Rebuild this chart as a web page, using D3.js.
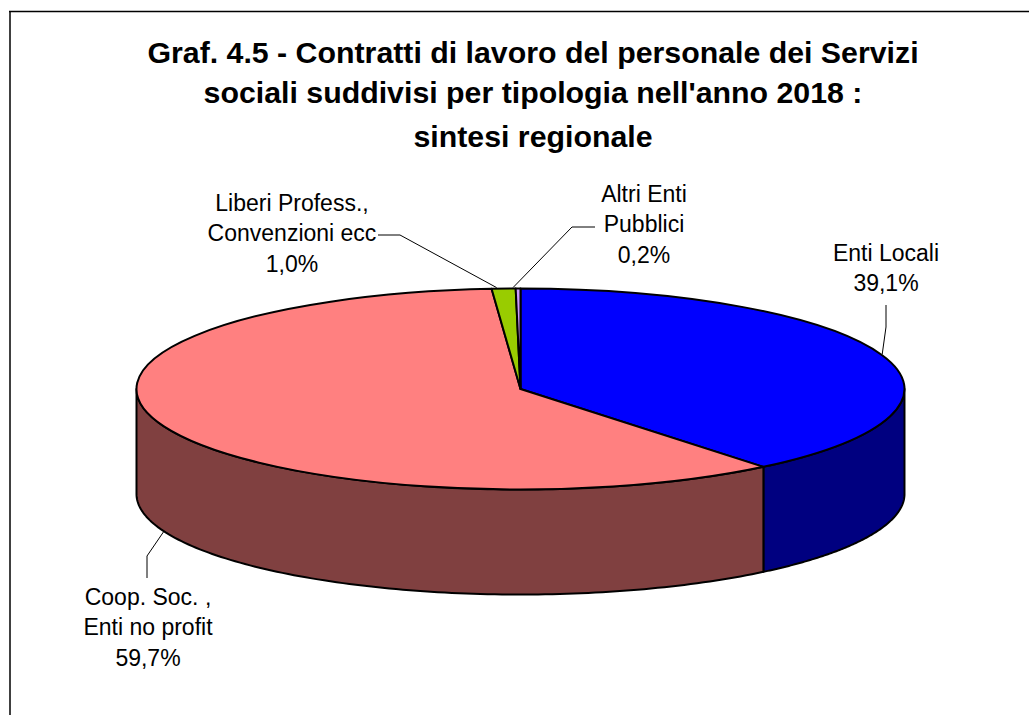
<!DOCTYPE html>
<html>
<head>
<meta charset="utf-8">
<script src="https://cdn.jsdelivr.net/npm/d3@7"></script>
<style>
  html, body { margin: 0; padding: 0; background: #fff; overflow: hidden; }
  text { font-family: "Liberation Sans", Arial, sans-serif; fill: #000; }
</style>
</head>
<body>
<svg id="chart" width="1029" height="715"></svg>
<script>
var titleLines = ['Graf. 4.5 - Contratti di lavoro del personale dei Servizi',
                  "sociali suddivisi per tipologia nell'anno 2018 :",
                  'sintesi regionale'];
var categories = ['Enti Locali', 'Coop. Soc. , Enti no profit', 'Liberi Profess., Convenzioni ecc', 'Altri Enti Pubblici'];
var values = [39.1, 59.7, 1.0, 0.2];
var valueLabels = ['39,1%', '59,7%', '1,0%', '0,2%'];
var labelLines = [['Enti Locali'], ['Coop. Soc. ,', 'Enti no profit'], ['Liberi Profess.,', 'Convenzioni ecc'], ['Altri Enti', 'Pubblici']];
var topColors = ['#0000ff', '#ff8080', '#99cc00', '#cc99ff'];
var sideColors = ['#000080', '#804040', '#4d6600', '#664d80'];

// pie geometry
var cx = 520.5, cy = 389, rx = 384, ry = 100.5, depth = 105;

// label layout: text centre, first baseline, leader path
var labelPos = [
  { x: 886, y: 261, onWall: false, anchorDx: 0, elbows: [[886, 327], [886, 305]] },
  { x: 148, y: 605, onWall: true,  anchorDx: 0, elbows: [[147, 556], [147, 578]] },
  { x: 292, y: 211, onWall: false, anchorDx: -7, elbows: [[400, 235], [378, 235]] },
  { x: 644, y: 202, onWall: false, anchorDx: -5, elbows: [[572, 227], [595, 227]] }
];

var svg = d3.select('#chart');

// frame: only the left and top sides show
svg.append('line')
  .attr('x1', 10).attr('y1', 11).attr('x2', 10).attr('y2', 715)
  .attr('stroke', '#404040')
  .attr('stroke-width', 2);
svg.append('line')
  .attr('x1', 9).attr('y1', 11.5).attr('x2', 1029).attr('y2', 11.5)
  .attr('stroke', '#000')
  .attr('stroke-width', 1.5);

svg.append('g').selectAll('text')
  .data(titleLines)
  .enter().append('text')
  .attr('x', 533)
  .attr('y', function(d, i) { return [63, 103, 147][i]; })
  .attr('text-anchor', 'middle')
  .style('font-size', '30.3px')
  .style('font-weight', 'bold')
  .text(function(d) { return d; });

var pie = d3.pie().sort(null).startAngle(0).endAngle(2 * Math.PI);
var slices = pie(values);

function px(a) { return cx + rx * Math.sin(a); }
function py(a) { return cy - ry * Math.cos(a); }

// side wall of a slice, only the part that faces the viewer (90 to 270 degrees)
function wallPath(s) {
  var a0 = Math.max(s.startAngle, Math.PI / 2);
  var a1 = Math.min(s.endAngle, 3 * Math.PI / 2);
  if (a1 <= a0) return null;
  var angles = d3.range(0, 121).map(function(i) { return a0 + (a1 - a0) * i / 120; });
  var upper = angles.map(function(a) { return [px(a), py(a)]; });
  var lower = angles.slice().reverse().map(function(a) { return [px(a), py(a) + depth]; });
  return d3.line()(upper.concat(lower)) + 'Z';
}

svg.append('g').selectAll('path')
  .data(slices.filter(function(s) { return wallPath(s); }))
  .enter().append('path')
  .attr('d', wallPath)
  .attr('fill', function(d) { return sideColors[d.index]; })
  .attr('stroke', '#000')
  .attr('stroke-width', 2)
  .attr('stroke-linejoin', 'round');

var arc = d3.arc().innerRadius(0).outerRadius(rx);

svg.append('g')
  .attr('transform', 'translate(' + cx + ',' + cy + ') scale(1,' + (ry / rx) + ')')
  .selectAll('path')
  .data(slices)
  .enter().append('path')
  .attr('d', arc)
  .attr('fill', function(d) { return topColors[d.index]; })
  .attr('stroke', '#000')
  .attr('stroke-width', 2)
  .attr('stroke-linejoin', 'round')
  .attr('vector-effect', 'non-scaling-stroke');

// leader lines start at the middle of each slice's rim
svg.append('g').selectAll('path')
  .data(slices)
  .enter().append('path')
  .attr('d', function(d) {
    var p = labelPos[d.index];
    var a = (d.startAngle + d.endAngle) / 2;
    var start = [px(a) + p.anchorDx, py(a) + (p.onWall ? depth : 0) - (p.onWall ? 0 : 1)];
    return d3.line()([start].concat(p.elbows));
  })
  .attr('fill', 'none')
  .attr('stroke', '#000')
  .attr('stroke-width', 1);

var labels = svg.append('g').selectAll('text')
  .data(categories)
  .enter().append('text')
  .attr('text-anchor', 'middle')
  .style('font-size', '23px');

labels.each(function(d, i) {
  var lines = labelLines[i].concat(valueLabels[i]);
  d3.select(this).selectAll('tspan')
    .data(lines)
    .enter().append('tspan')
    .attr('x', labelPos[i].x)
    .attr('y', function(l, j) { return labelPos[i].y + j * 30.4; })
    .text(function(l) { return l; });
});
</script>
</body>
</html>
